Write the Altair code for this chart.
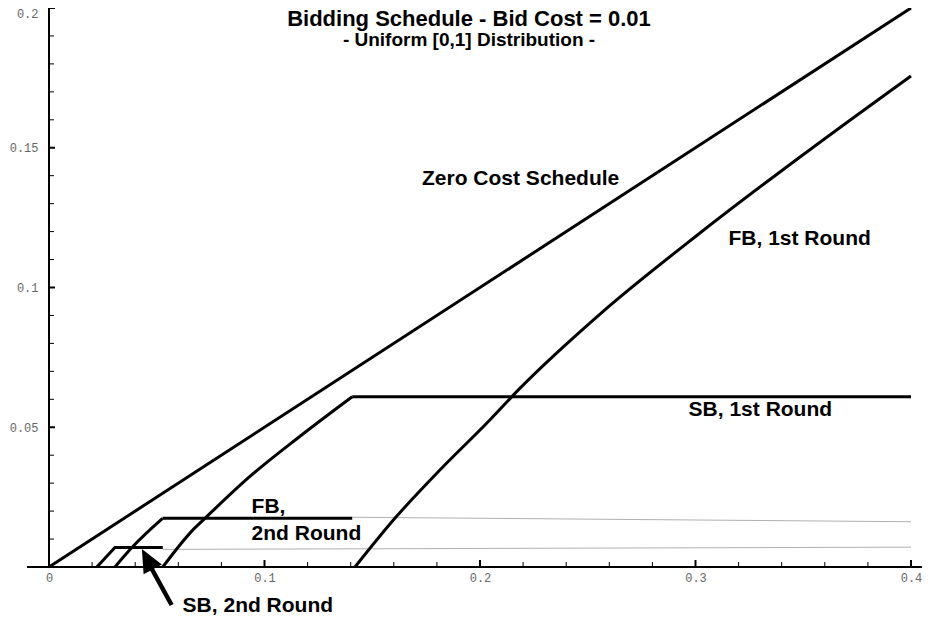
import altair as alt
import pandas as pd

# ---------------- data ----------------
zero_x = [0.0, 0.4]
zero_y = [0.0, 0.2]

fb1_x = [0.142, 0.1606, 0.1814, 0.2032, 0.2186, 0.2557, 0.3021, 0.3485, 0.4]
fb1_y = [0.0, 0.0175, 0.0347, 0.0515, 0.0640, 0.0905, 0.1195, 0.1467, 0.1757]

sb1_x = [0.0528, 0.0667, 0.0725, 0.0931, 0.1162, 0.1407, 0.4]
sb1_y = [0.0, 0.0132, 0.0175, 0.0323, 0.0466, 0.0609, 0.0609]

fb2_x = [0.0306, 0.0389, 0.0527, 0.1407]
fb2_y = [0.0, 0.0073, 0.0174, 0.0174]

sb2_x = [0.0222, 0.0306, 0.0528]
sb2_y = [0.0, 0.0070, 0.0070]

fb2_tail_x = [0.1407, 0.4]
fb2_tail_y = [0.0178, 0.0162]
sb2_tail_x = [0.0528, 0.4]
sb2_tail_y = [0.0063, 0.0071]

label_text = ["Zero Cost Schedule", "FB, 1st Round", "SB, 1st Round",
              "FB,", "2nd Round", "SB, 2nd Round"]
label_x = [0.1731, 0.3153, 0.2968, 0.094, 0.094, 0.062]
label_y = [0.1367, 0.1152, 0.0540, 0.0193, 0.00966, -0.0161]

arrow_tail = [0.0569, -0.0136]
arrow_base = [0.0472, 0.0000]
arrow_tip = [0.0431, 0.0064]

x_major = [0.0, 0.1, 0.2, 0.3, 0.4]
x_minor = [0.02, 0.04, 0.06, 0.08, 0.12, 0.14, 0.16, 0.18, 0.22, 0.24,
           0.26, 0.28, 0.32, 0.34, 0.36, 0.38]
y_labels = [0.05, 0.1, 0.15, 0.2]
y_major = [0.0, 0.05, 0.1, 0.15, 0.2]
y_minor = [0.01, 0.02, 0.03, 0.04, 0.06, 0.07, 0.08, 0.09, 0.11, 0.12,
           0.13, 0.14, 0.16, 0.17, 0.18, 0.19]

x_axis_extent = [-0.0102, 0.408]
y_axis_extent = [0.0, 0.2]

# ---------------- tables ----------------
def series(name, xs, ys):
    return pd.DataFrame({"series": name, "i": range(len(xs)), "x": xs, "y": ys})

straight_df = pd.concat([
    series("zero", zero_x, zero_y),
    series("sb1p", sb1_x[-2:], sb1_y[-2:]),
    series("fb2p", fb2_x[-2:], fb2_y[-2:]),
    series("sb2", sb2_x, sb2_y),
])
curved_df = pd.concat([
    series("fb1", fb1_x, fb1_y),
    series("sb1r", sb1_x[:-1], sb1_y[:-1]),
    series("fb2r", fb2_x[:-1], fb2_y[:-1]),
])
thin_df = pd.concat([
    series("fb2t", fb2_tail_x, fb2_tail_y),
    series("sb2t", sb2_tail_x, sb2_tail_y),
])
labels_df = pd.DataFrame({"t": label_text, "x": label_x, "y": label_y})
shaft_df = pd.DataFrame({"x": [arrow_tail[0]], "y": [arrow_tail[1]],
                         "x2": [arrow_base[0]], "y2": [arrow_base[1]]})
head_df = pd.DataFrame({"x": [arrow_tip[0]], "y": [arrow_tip[1]]})

W = 862
H = 559
XS = alt.Scale(domain=[0, 0.4], nice=False, zero=False)
YS = alt.Scale(domain=[0, 0.2], nice=False, zero=False)

x_axis = alt.Axis(values=x_major, format="~g", domain=False, ticks=False, grid=False,
                  labelFont="Liberation Mono", labelFontSize=12, labelColor="#666666",
                  labelPadding=5, labelFlush=False, title=None)
y_axis = alt.Axis(values=y_labels, format="~g", domain=False, ticks=False, grid=False,
                  labelFont="Liberation Mono", labelFontSize=12, labelColor="#666666",
                  labelPadding=11, labelFlush=True, title=None)


def X(f):
    return alt.X(f, type="quantitative", scale=XS, axis=x_axis, title=None)


def Y(f):
    return alt.Y(f, type="quantitative", scale=YS, axis=y_axis, title=None)


thin = alt.Chart(thin_df).mark_line(color="#b0b0b0", strokeWidth=1).encode(
    x=X("x"), y=Y("y"), detail="series:N", order="i:Q")

straight = alt.Chart(straight_df).mark_line(color="black", strokeWidth=3, strokeJoin="miter").encode(
    x=X("x"), y=Y("y"), detail="series:N", order="i:Q")

curved = alt.Chart(curved_df).mark_line(color="black", strokeWidth=3, interpolate="monotone").encode(
    x=X("x"), y=Y("y"), detail="series:N", order="i:Q")

xdom = alt.Chart(pd.DataFrame({"a": [x_axis_extent[0]], "b": [x_axis_extent[1]], "c": [0.0]})).mark_rule(
    color="black", strokeWidth=2).encode(x=X("a"), x2="b", y=Y("c"))
ydom = alt.Chart(pd.DataFrame({"a": [y_axis_extent[0]], "b": [y_axis_extent[1]], "c": [0.0]})).mark_rule(
    color="black", strokeWidth=2).encode(y=Y("a"), y2="b", x=X("c"))

xmaj = alt.Chart(pd.DataFrame({"v": x_major})).mark_rule(color="black", strokeWidth=2).encode(
    x=X("v"), y=alt.value(H + 1), y2=alt.value(H - 7))
xmin = alt.Chart(pd.DataFrame({"v": x_minor})).mark_rule(color="black", strokeWidth=1).encode(
    x=X("v"), y=alt.value(H), y2=alt.value(H - 5))
ymaj = alt.Chart(pd.DataFrame({"v": y_major})).mark_rule(color="black", strokeWidth=2).encode(
    y=Y("v"), x=alt.value(0), x2=alt.value(6))
ymin = alt.Chart(pd.DataFrame({"v": y_minor})).mark_rule(color="black", strokeWidth=1).encode(
    y=Y("v"), x=alt.value(0), x2=alt.value(5))

labels = alt.Chart(labels_df).mark_text(
    font="Liberation Sans", fontSize=21, fontWeight="bold", color="black",
    align="left", baseline="alphabetic").encode(x=X("x"), y=Y("y"), text="t:N")

shaft = alt.Chart(shaft_df).mark_rule(color="black", strokeWidth=4.5).encode(
    x=X("x"), y=Y("y"), x2="x2", y2="y2")
head = alt.Chart(head_df).mark_point(
    shape="M0,0L-0.9,2L0.9,2Z", filled=True, color="black", opacity=1,
    size=529, angle=331.8).encode(x=X("x"), y=Y("y"))

chart = alt.layer(thin, straight, curved, xdom, ydom, xmaj, xmin, ymaj, ymin,
                  labels, shaft, head).properties(
    width=W, height=H,
    padding={"left": 41, "top": 0, "right": 11, "bottom": 50},
    autosize=alt.AutoSizeParams(type="none"),
    background="white",
    title=alt.TitleParams(
        text="Bidding Schedule - Bid Cost = 0.01",
        subtitle="- Uniform [0,1] Distribution -",
        font="Liberation Sans", fontSize=22, fontWeight="bold", color="black",
        subtitleFont="Liberation Sans", subtitleFontSize=19, subtitleFontWeight="bold",
        subtitleColor="black", subtitlePadding=0,
        anchor="middle", dx=-11, offset=-49),
).configure_view(stroke=None)

chart.save("out.html", embed_options={"renderer": "svg", "actions": False})
